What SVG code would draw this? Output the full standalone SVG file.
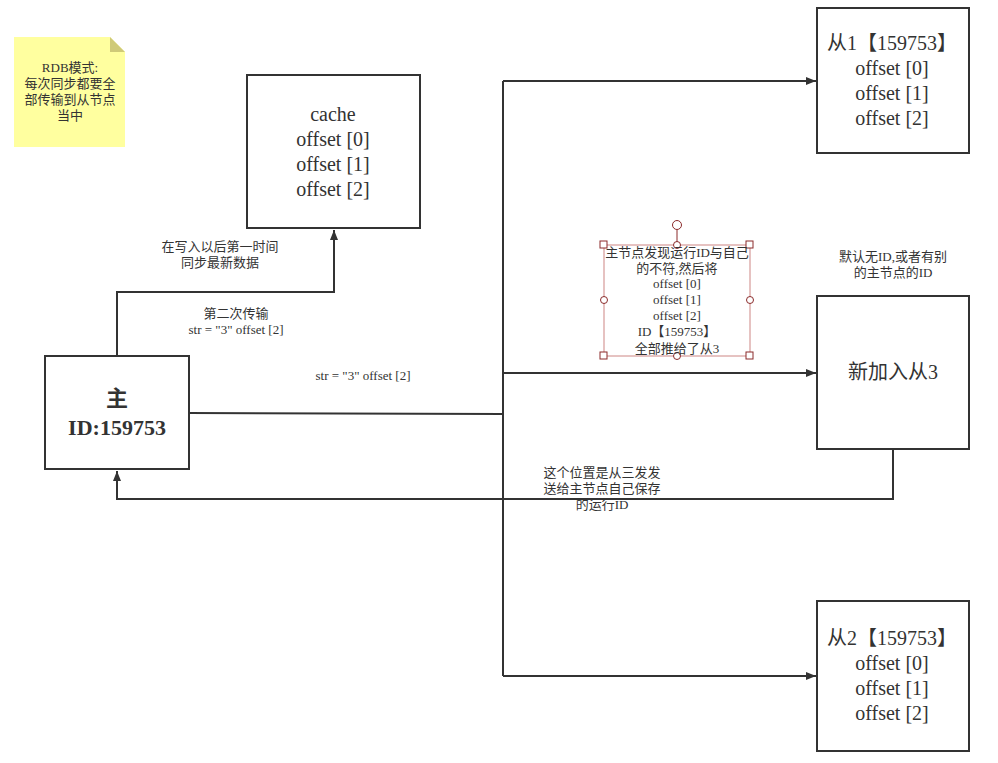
<svg xmlns="http://www.w3.org/2000/svg" width="998" height="763" viewBox="0 0 998 763">
<defs>
<marker id="arr" viewBox="0 0 10 10" refX="10" refY="5" markerWidth="14" markerHeight="10" markerUnits="userSpaceOnUse" orient="auto">
<path d="M0,1 L10,5 L0,9 Z" fill="#333"/>
</marker>
<style>
.box{fill:#fff;stroke:#333;stroke-width:2}
.edge{fill:none;stroke:#333;stroke-width:2}
.t{font-family:"Liberation Serif","Noto Sans CJK SC",serif;fill:#333;text-anchor:middle}
.big{font-size:20px}
.sm{font-size:13px}
.hs{fill:#fff;stroke:#8b2b2b;stroke-width:1}
</style>
</defs>
<rect width="998" height="763" fill="#fff"/>

<g id="connectors">
<path class="edge" d="M117,356 V292 H334 V230" marker-end="url(#arr)"/>
<path class="edge" d="M189,413 L503,414"/>
<path class="edge" d="M503,81 V676"/>
<path class="edge" d="M503,81 H816" marker-end="url(#arr)"/>
<path class="edge" d="M503,373 H816" marker-end="url(#arr)"/>
<path class="edge" d="M503,676 H816" marker-end="url(#arr)"/>
<path class="edge" d="M893,449 V499 H117 V471" marker-end="url(#arr)"/>
<text class="t sm" x="220" y="251">在写入以后第一时间</text>
<text class="t sm" x="220" y="267">同步最新数据</text>
<text class="t sm" x="236" y="318">第二次传输</text>
<text class="t sm" x="236" y="334">str = "3" offset [2]</text>
<text class="t sm" x="363" y="380">str = "3" offset [2]</text>
<text class="t sm" x="602" y="477">这个位置是从三发发</text>
<text class="t sm" x="602" y="493">送给主节点自己保存</text>
<text class="t sm" x="602" y="509">的运行ID</text>
</g>

<g id="note">
<path d="M14,37 H110 L125,52 V147 H14 Z" fill="#ffff9f"/>
<path d="M110,37 L125,52 H110 Z" fill="#cfca78"/>
<text class="t sm" x="70" y="72">RDB模式:</text>
<text class="t sm" x="70" y="88">每次同步都要全</text>
<text class="t sm" x="70" y="104">部传输到从节点</text>
<text class="t sm" x="70" y="120">当中</text>
</g>

<g id="cache">
<rect class="box" x="247" y="75" width="173" height="153"/>
<text class="t big" x="333" y="121">cache</text>
<text class="t big" x="333" y="146">offset [0]</text>
<text class="t big" x="333" y="171">offset [1]</text>
<text class="t big" x="333" y="196">offset [2]</text>
</g>

<g id="master">
<rect class="box" x="45" y="356" width="144" height="113"/>
<text class="t" x="117" y="406" font-size="22" font-weight="bold">主</text>
<text class="t" x="117" y="435" font-size="22" font-weight="bold">ID:159753</text>
</g>

<g id="slave1">
<rect class="box" x="817" y="8" width="152" height="145"/>
<text class="t big" x="892" y="50">从1【159753】</text>
<text class="t big" x="892" y="75">offset [0]</text>
<text class="t big" x="892" y="100">offset [1]</text>
<text class="t big" x="892" y="125">offset [2]</text>
</g>

<g id="slave3">
<rect class="box" x="817" y="296" width="152" height="153"/>
<text class="t big" x="893" y="379">新加入从3</text>
</g>
<g id="slave3label">
<text class="t sm" x="893" y="261">默认无ID,或者有别</text>
<text class="t sm" x="893" y="277">的主节点的ID</text>
</g>

<g id="slave2">
<rect class="box" x="817" y="601" width="152" height="150"/>
<text class="t big" x="892" y="645">从2【159753】</text>
<text class="t big" x="892" y="670">offset [0]</text>
<text class="t big" x="892" y="695">offset [1]</text>
<text class="t big" x="892" y="720">offset [2]</text>
</g>

<g id="selected-text">
<rect x="604" y="245" width="146" height="111" fill="none" stroke="#b85450" stroke-width="1" opacity="0.7"/>
<line x1="677" y1="230" x2="677" y2="245" stroke="#8b2b2b" stroke-width="1"/>
<circle class="hs" cx="677" cy="225" r="4.5"/>
<rect class="hs" x="600" y="241" width="7" height="7"/>
<rect class="hs" x="746" y="241" width="7" height="7"/>
<rect class="hs" x="600" y="352" width="7" height="7"/>
<rect class="hs" x="746" y="352" width="7" height="7"/>
<circle class="hs" cx="677" cy="245" r="3.5"/>
<circle class="hs" cx="604" cy="300" r="3.5"/>
<circle class="hs" cx="750" cy="300" r="3.5"/>
<circle class="hs" cx="677" cy="356" r="3.5"/>
<text class="t sm" x="677" y="257">主节点发现运行ID与自己</text>
<text class="t sm" x="677" y="273">的不符,然后将</text>
<text class="t sm" x="677" y="288">offset [0]</text>
<text class="t sm" x="677" y="304">offset [1]</text>
<text class="t sm" x="677" y="320">offset [2]</text>
<text class="t sm" x="677" y="336">ID【159753】</text>
<text class="t sm" x="677" y="353">全部推给了从3</text>
</g>
</svg>
